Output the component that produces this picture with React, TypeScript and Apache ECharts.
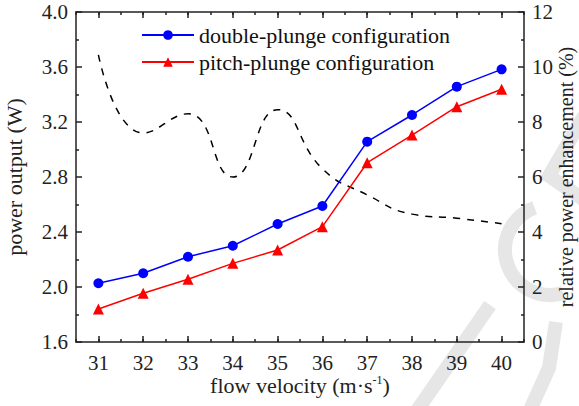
import React, { useEffect, useRef } from "react";
import * as echarts from "echarts";

const categories = ["31", "32", "33", "34", "35", "36", "37", "38", "39", "40"];
const doublePlunge = [2.027, 2.1, 2.22, 2.3, 2.458, 2.589, 3.057, 3.251, 3.457, 3.583];
const pitchPlunge = [1.84, 1.954, 2.056, 2.172, 2.269, 2.439, 2.904, 3.105, 3.311, 3.438];
const enhancement = [10.44, 7.6, 8.3, 6.0, 8.45, 6.3, 5.35, 4.65, 4.5, 4.3];
const seriesNames = ["double-plunge configuration", "pitch-plunge configuration"];

const FONT = "Liberation Serif";
const AX = "#222";

export default function App() {
  const ref = useRef<HTMLDivElement>(null);
  useEffect(() => {
    document.body.style.margin = "0";
    const chart = echarts.init(ref.current!, null, { renderer: "svg" });
    const wm = "#e6e6e6";
    const lineStyle = { color: AX, width: 1.5 };
    chart.setOption({
      animation: false,
      backgroundColor: "#fff",
      textStyle: { fontFamily: FONT },
      graphic: [
        {
          type: "arc", z: -10, silent: true,
          shape: { cx: 550, cy: 250, r: 45, startAngle: (73 * Math.PI) / 180, endAngle: (250 * Math.PI) / 180, clockwise: true },
          style: { stroke: wm, lineWidth: 14, fill: null },
        },
        {
          type: "polyline", z: -10, silent: true,
          shape: { points: [[584, 116], [549, 176], [584, 200]] },
          style: { stroke: wm, lineWidth: 14, fill: null },
        },
        {
          type: "line", z: -10, silent: true,
          shape: { x1: 490, y1: 305, x2: 416, y2: 412 },
          style: { stroke: wm, lineWidth: 14 },
        },
        {
          type: "polyline", z: -10, silent: true,
          shape: { points: [[556, 322], [549, 368], [530, 410]] },
          style: { stroke: wm, lineWidth: 14, fill: null },
        },
      ],
      grid: { left: 76, right: 55, top: 12, bottom: 64, containLabel: false, outerBoundsMode: "none" },
      legend: {
        data: seriesNames,
        orient: "vertical",
        left: 136,
        top: 19,
        itemWidth: 52,
        itemHeight: 12,
        itemGap: 5,
        textStyle: { fontFamily: FONT, fontSize: 22, color: "#111" },
      },
      xAxis: [
        {
          type: "category",
          data: categories,
          position: "bottom",
          boundaryGap: true,
          axisLine: { show: true, lineStyle },
          axisTick: { show: true, alignWithLabel: true, inside: true, length: 6, lineStyle },
          axisLabel: { fontFamily: FONT, fontSize: 21, color: AX, margin: 10 },
          splitLine: { show: false },
          name: "{a|flow velocity (m·s}{b|-1}{a|)}",
          nameLocation: "middle",
          nameGap: 32,
          nameMoveOverlap: false,
          nameTextStyle: {
            fontFamily: FONT,
            fontSize: 22,
            verticalAlign: "top",
            rich: {
              a: { fontFamily: FONT, fontSize: 22, color: AX },
              b: { fontFamily: FONT, fontSize: 12, color: AX, verticalAlign: "top", padding: [0, 0, 9, 0] },
            },
          },
        },
        {
          type: "value", min: 30.5, max: 40.5, interval: 0.5, position: "bottom",
          axisLine: { show: false },
          axisTick: { show: true, inside: true, length: 3, lineStyle },
          axisLabel: { show: false },
          splitLine: { show: false },
        },
        {
          type: "category", data: categories, position: "top", boundaryGap: true,
          axisLine: { show: true, lineStyle },
          axisTick: { show: true, alignWithLabel: true, inside: true, length: 6, lineStyle },
          axisLabel: { show: false },
          splitLine: { show: false },
        },
        {
          type: "value", min: 30.5, max: 40.5, interval: 0.5, position: "top",
          axisLine: { show: false },
          axisTick: { show: true, inside: true, length: 3, lineStyle },
          axisLabel: { show: false },
          splitLine: { show: false },
        },
      ],
      yAxis: [
        {
          type: "value", min: 1.6, max: 4.0, interval: 0.4, position: "left",
          axisLine: { show: true, lineStyle },
          axisTick: { show: true, inside: true, length: 6, lineStyle },
          minorTick: { show: true, splitNumber: 2, length: 3, lineStyle },
          axisLabel: { fontFamily: FONT, fontSize: 21, color: AX, margin: 8, formatter: (v: number) => v.toFixed(1) },
          splitLine: { show: false },
          minorSplitLine: { show: false },
          name: "power output (W)",
          nameLocation: "middle",
          nameRotate: 90,
          nameGap: 51,
          nameMoveOverlap: false,
          nameTextStyle: { fontFamily: FONT, fontSize: 22, color: AX },
        },
        {
          type: "value", min: 0, max: 12, interval: 2, position: "right",
          axisLine: { show: true, lineStyle },
          axisTick: { show: true, inside: true, length: 6, lineStyle },
          minorTick: { show: true, splitNumber: 2, length: 3, lineStyle },
          axisLabel: { fontFamily: FONT, fontSize: 21, color: AX, margin: 8 },
          splitLine: { show: false },
          minorSplitLine: { show: false },
          name: "relative power enhancement (%)",
          nameLocation: "middle",
          nameRotate: 90,
          nameGap: 32,
          nameMoveOverlap: false,
          nameTextStyle: { fontFamily: FONT, fontSize: 20, color: AX },
        },
      ],
      series: [
        {
          name: seriesNames[0], type: "line", xAxisIndex: 0, yAxisIndex: 0,
          data: doublePlunge, symbol: "circle", symbolSize: 10,
          itemStyle: { color: "#0000ff" }, lineStyle: { color: "#0000ff", width: 1.5 }, z: 4,
        },
        {
          name: seriesNames[1], type: "line", xAxisIndex: 0, yAxisIndex: 0,
          data: pitchPlunge, symbol: "triangle", symbolSize: 11,
          itemStyle: { color: "#ff0000" }, lineStyle: { color: "#ff0000", width: 1.5 }, z: 4,
        },
        {
          name: "enhancement", type: "line", xAxisIndex: 0, yAxisIndex: 1,
          data: enhancement, smooth: true, symbol: "none",
          lineStyle: { color: "#000", width: 1.5, type: [7, 7] }, z: 3,
        },
      ],
    });
    return () => chart.dispose();
  }, []);
  return <div ref={ref} style={{ position: "absolute", left: 0, top: 0, width: 579, height: 406 }} />;
}
